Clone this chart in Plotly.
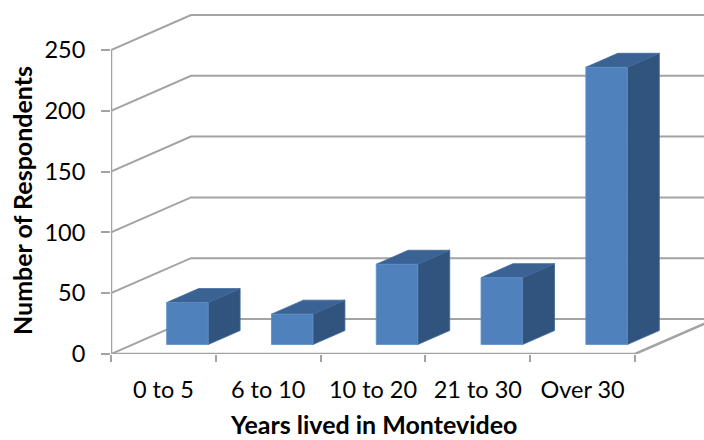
import plotly.graph_objects as go

categories = ["0 to 5", "6 to 10", "10 to 20", "21 to 30", "Over 30"]
respondents = [34.5, 25, 66, 55, 228]
value_ticks = [0, 50, 100, 150, 200, 250]

GRID = "#A3A3A3"
FONT = "Lato, Carlito, Calibri, sans-serif"
WALL_DX, WALL_DY = 0.763, 28.8      # back wall offset in axis units
NEAR_X, NEAR_Y, DEPTH = 0.30, 0.27, 0.40   # bar placement as fractions of wall depth
HALF = 0.198                        # half bar width

xs = list(range(len(categories)))
left, right = -0.5, len(categories) - 0.5

fig = go.Figure()

def line(x, y, width=2):
    fig.add_trace(go.Scatter(x=x, y=y, mode="lines", cliponaxis=False,
                             line=dict(color=GRID, width=width), hoverinfo="skip", showlegend=False))

for v in value_ticks:
    line([left, left + WALL_DX, right + WALL_DX], [v, v + WALL_DY, v + WALL_DY])
line([left, left], [0, 250], 2.5)
line([left, right, right + WALL_DX], [0, 0, WALL_DY], 2.5)

def faces(cx, v):
    x0 = cx - HALF + NEAR_X * WALL_DX
    x1 = cx + HALF + NEAR_X * WALL_DX
    y0 = NEAR_Y * WALL_DY
    ox, oy = DEPTH * WALL_DX, DEPTH * WALL_DY
    front = ([x0, x1, x1, x0, x0], [y0, y0, y0 + v, y0 + v, y0])
    side = ([x1, x1 + ox, x1 + ox, x1, x1], [y0, y0 + oy, y0 + v + oy, y0 + v, y0])
    top = ([x0, x1, x1 + ox, x0 + ox, x0], [y0 + v, y0 + v, y0 + v + oy, y0 + v + oy, y0 + v])
    return front, side, top

def poly(pts, color, border):
    fig.add_trace(go.Scatter(x=pts[0], y=pts[1], mode="lines", fill="toself", fillcolor=color,
                             line=dict(color=border, width=0.8), cliponaxis=False,
                             hoverinfo="skip", showlegend=False))

for cx, v in zip(xs, respondents):
    f, s, t = faces(cx, v)
    poly(s, "#31547F", "#3F6797")
    poly(t, "#3A6293", "#3F6A9C")
    poly(f, "#4F81BD", "#5F8EC6")

TICK_FONT = dict(family=FONT, size=23.5, color="#000000")
TITLE_FONT = dict(family=FONT, size=25, color="#000000")

fig.update_layout(
    width=704, height=440, autosize=False,
    margin=dict(l=111, r=0, t=0, b=86),
    paper_bgcolor="white", plot_bgcolor="white",
    font=TICK_FONT,
    showlegend=False,
    xaxis=dict(range=[left, left + 593 / 104.8], tickmode="array", tickvals=xs, ticktext=categories,
               showgrid=False, zeroline=False, showline=False,
               ticks="outside", ticklen=15, tickcolor="rgba(0,0,0,0)",
               tickfont=TICK_FONT,
               minor=dict(tickmode="array", tickvals=[left + i for i in range(len(categories) + 1)],
                          ticks="outside", ticklen=7, tickcolor=GRID, tickwidth=2, showgrid=False)),
    yaxis=dict(range=[0, 354 / 1.216], tickmode="array", tickvals=value_ticks,
               showgrid=False, zeroline=False, showline=False,
               ticks="outside", ticklen=9, tickcolor=GRID, tickwidth=2, ticklabelstandoff=11,
               tickfont=TICK_FONT),
    annotations=[
        dict(text="<b>Years lived in Montevideo</b>", xref="paper", yref="paper", x=(373 - 111) / 593,
             y=-(424.5 - 354) / 354, showarrow=False, xanchor="center", yanchor="middle",
             font=TITLE_FONT),
        dict(text="<b>Number of Respondents</b>", xref="paper", yref="paper", x=(22 - 111) / 593,
             y=(354 - 201) / 354, showarrow=False, textangle=-90, xanchor="center", yanchor="middle",
             font=TITLE_FONT),
    ],
)
fig.write_html("out.html", post_script="document.body.style.margin='0';",
               config={"displayModeBar": False})
